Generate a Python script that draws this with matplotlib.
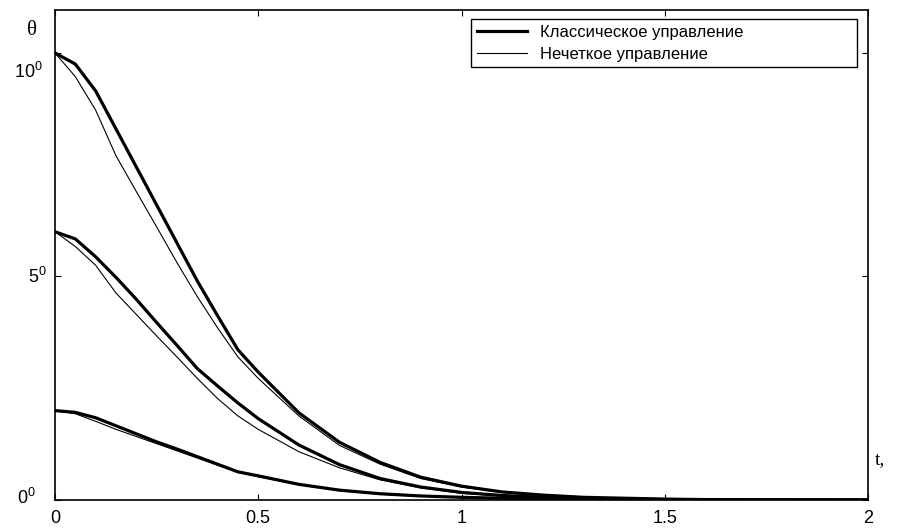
import matplotlib
matplotlib.use("Agg")
import matplotlib.pyplot as plt

plt.rcParams['font.family'] = ['Liberation Sans', 'DejaVu Sans']
plt.rcParams['mathtext.fontset'] = 'custom'
plt.rcParams['mathtext.rm'] = 'Liberation Sans'

# time grid, s
t = [0, 0.05, 0.1, 0.15, 0.2, 0.25, 0.3, 0.35, 0.4, 0.45, 0.5, 0.6, 0.7, 0.8,
     0.9, 1.0, 1.1, 1.2, 1.3, 1.4, 1.5, 1.6, 1.8, 2.0]

# classical control (thick), initial angles 10, 6, 2 degrees
classic_10 = [10.0, 9.75, 9.15, 8.3, 7.45, 6.6, 5.75, 4.9, 4.12, 3.36, 2.86, 1.95, 1.29,
              0.84, 0.51, 0.31, 0.18, 0.11, 0.06, 0.04, 0.02, 0.01, 0.005, 0.0]
classic_6 = [6.0, 5.84, 5.44, 4.98, 4.49, 3.97, 3.46, 2.94, 2.55, 2.17, 1.82, 1.23, 0.79,
             0.48, 0.29, 0.17, 0.1, 0.06, 0.035, 0.02, 0.01, 0.005, 0.0, 0.0]
classic_2 = [2.0, 1.96, 1.84, 1.66, 1.48, 1.3, 1.14, 0.97, 0.8, 0.63, 0.54, 0.35, 0.22,
             0.14, 0.09, 0.06, 0.04, 0.02, 0.01, 0.005, 0.0, 0.0, 0.0, 0.0]

# fuzzy control (thin)
fuzzy_10 = [10.0, 9.47, 8.72, 7.7, 6.9, 6.11, 5.31, 4.55, 3.85, 3.2, 2.72, 1.88, 1.22,
            0.8, 0.48, 0.29, 0.17, 0.1, 0.055, 0.035, 0.02, 0.01, 0.005, 0.0]
fuzzy_6 = [6.0, 5.67, 5.25, 4.63, 4.15, 3.67, 3.2, 2.72, 2.27, 1.88, 1.58, 1.08, 0.72,
           0.45, 0.27, 0.15, 0.09, 0.055, 0.03, 0.02, 0.01, 0.005, 0.0, 0.0]
fuzzy_2 = [2.0, 1.93, 1.76, 1.58, 1.42, 1.26, 1.1, 0.94, 0.78, 0.62, 0.52, 0.34, 0.21,
           0.13, 0.085, 0.055, 0.035, 0.02, 0.01, 0.005, 0.0, 0.0, 0.0, 0.0]

legend_labels = ['Классическое управление', 'Нечеткое управление']
x_ticks = [0, 0.5, 1, 1.5, 2]
x_tick_labels = ['0', '0.5', '1', '1.5', '2']
y_ticks = [0, 5, 10]

fig = plt.figure(figsize=(9, 5.29), dpi=100)
ax = fig.add_axes([55 / 900, 29 / 529, 813 / 900, 490 / 529])

thick = dict(color='black', lw=2.3)
thin = dict(color='black', lw=0.8)
l1, = ax.plot(t, classic_10, **thick)
ax.plot(t, classic_6, **thick)
ax.plot(t, classic_2, **thick)
l2, = ax.plot(t, fuzzy_10, **thin)
ax.plot(t, fuzzy_6, **thin)
ax.plot(t, fuzzy_2, **thin)

ax.set_xlim(0, 2)
ax.set_ylim(0, 10.96)
ax.set_xticks(x_ticks)
ax.set_xticklabels(x_tick_labels, fontsize=13)
ax.set_yticks(y_ticks)
ax.set_yticklabels([])
ax.tick_params(direction='in', length=4, width=0.8, top=True, right=True, pad=7)
for s in ax.spines.values():
    s.set_linewidth(1.2)

# y tick labels with degree-style superscript
ax.text(-0.1, 9.57, r'$\mathregular{10^0}$', fontsize=13, ha='left', va='center', clip_on=False)
ax.text(-0.066, 4.98, r'$\mathregular{5^0}$', fontsize=13, ha='left', va='center', clip_on=False)
ax.text(-0.093, 0.05, r'$\mathregular{0^0}$', fontsize=13, ha='left', va='center', clip_on=False)

ax.text(-0.068, 10.5, 'θ', fontsize=15, family=['Liberation Serif', 'DejaVu Serif'],
        ha='left', va='center', clip_on=False)
ax.text(2.017, 0.9, 't,', fontsize=14, family=['Liberation Serif', 'DejaVu Serif'],
        ha='left', va='center', clip_on=False)

leg = ax.legend([l1, l2], legend_labels, loc='upper left',
                bbox_to_anchor=(416 / 813, 1 - 9 / 490, 386 / 813, 0.0),
                mode='expand', fontsize=12, frameon=True, fancybox=False,
                borderpad=0.35, labelspacing=0.4, handlelength=3.0, handletextpad=0.8,
                borderaxespad=0.0)
leg.get_frame().set_edgecolor('black')
leg.get_frame().set_linewidth(1.0)
leg.get_frame().set_alpha(1)

fig.savefig('out.png', dpi=100)
